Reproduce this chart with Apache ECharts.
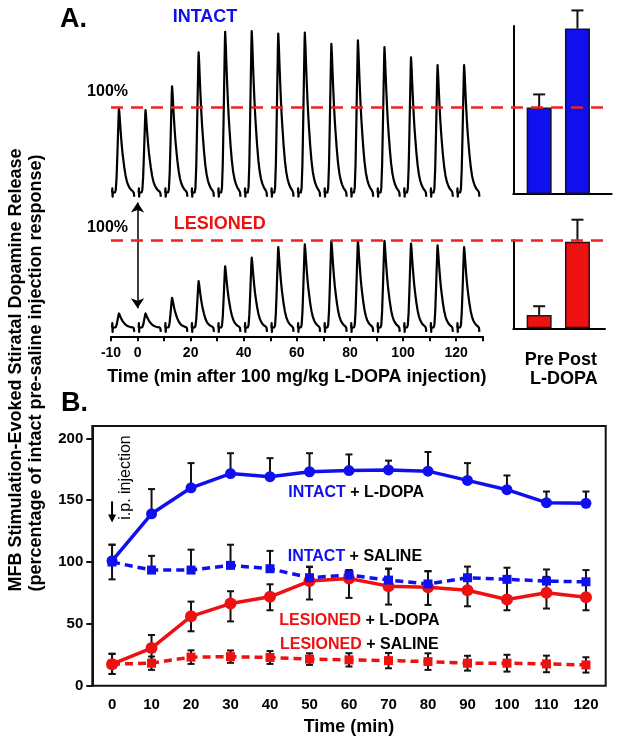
<!DOCTYPE html>
<html>
<head>
<meta charset="utf-8">
<title>L-DOPA and evoked dopamine release</title>
<script src="https://cdn.jsdelivr.net/npm/echarts@6/dist/echarts.min.js"></script>
<style>
  html, body { margin: 0; padding: 0; background: #fff; }
  #chart { width: 621px; height: 747px; }
</style>
</head>
<body>
<div id="chart"></div>
<script>
// ---- panel A: single evoked responses every 10 min ----
const peakTimes = [-7, 3, 13, 23, 33, 43, 53, 63, 73, 83, 93, 103, 113, 123];
const intactPeaks = [99, 97, 125, 165, 189, 190, 187, 188, 175, 179, 171, 159, 150, 150];
const lesionedPeaks = [16, 16, 34, 53, 70, 80, 92, 95, 99, 99, 99, 96, 94, 92];

// shape of one transient (min from peak, fraction of peak)
const transientT = [-2.8, -2.6, -2.5, -2.4, -2.3, -1.5, -1.2, -0.9, -0.6, -0.3, -0.1, 0, 0.2, 0.45, 0.7, 1.0, 1.3, 1.6, 2.0, 2.5, 3.0, 3.5, 4.0, 4.6, 5.2, 5.6, 5.75];
const transientShape = [0, 0, 0, 0, 0, 0, 0.03, 0.18, 0.45, 0.75, 0.94, 1, 0.93, 0.81, 0.7, 0.58, 0.48, 0.4, 0.3, 0.2, 0.13, 0.085, 0.055, 0.03, 0.015, 0.006, 0];
// stimulus artifact / end hook (percent)
const stimArtifact = [0, 0, 5, -5, 0, 0, 0, 0, 0, 0, 0, 0, 0, 0, 0, 0, 0, 0, 0, 0, 0, 0, 0, 0, 0, -1, -5];

// ---- panel A bars ----
const barGroups = ['Pre', 'Post'];
const intactBars = [100, 191];
const intactBarTop = [115, 212];
const lesionedBars = [15, 98];
const lesionedBarTop = [25, 123];

// ---- panel B ----
const timeMin = [0, 10, 20, 30, 40, 50, 60, 70, 80, 90, 100, 110, 120];
const intactLdopa = [101, 139, 160, 171.5, 169, 173, 174, 174.5, 173.5, 166, 158.5, 148, 147.5];
const intactLdopaHi = [114, 159, 180, 188, 184, 188, 187, 182, 189, 180, 170, 157, 157];
const intactSaline = [100, 93.5, 93.5, 97.3, 94.6, 87.3, 89.5, 85.4, 82.3, 87.3, 86, 84.6, 84];
const intactSalineLo = [86, 93.5, 93.5, 97.3, 94.6, 87.3, 89.5, 85.4, 82.3, 87.3, 86, 84.6, 84];
const intactSalineHi = [114, 105, 110, 114, 109, 96, 93.5, 94.6, 92.5, 96.3, 95.4, 94, 93.5];
const lesionedLdopa = [17.4, 30.4, 56.1, 66.4, 71.9, 84.6, 86.7, 80.5, 79.6, 77.2, 69.7, 75.1, 71.5];
const lesionedLdopaLo = [9.5, 19.8, 44, 52, 61, 69.7, 71, 65.6, 65.3, 64.2, 61, 62.4, 61];
const lesionedLdopaHi = [25.8, 41, 68, 76.4, 82, 96.3, 93.5, 94.6, 92.7, 88, 84, 88, 82];
const lesionedSaline = [17.4, 18.2, 23.1, 23.5, 22.8, 21.5, 20.9, 20.3, 19.5, 18.2, 18.2, 17.6, 16.8];
const lesionedSalineLo = [9.5, 12.8, 17.6, 18.5, 17.6, 16.8, 15.5, 14.1, 12.8, 12.2, 11.4, 10.9, 10.6];
const lesionedSalineHi = [25.8, 23.6, 28.6, 28.5, 28, 26.2, 26.3, 26.5, 26.2, 24.2, 25, 24.3, 23];

const BLUE = '#1010ee';
const RED = '#ee1111';
const FONT = "'Liberation Sans', Arial, sans-serif";

function renderTransient(params, api) {
  const t0 = api.value(0);
  const amp = api.value(1);
  const pts = transientT.map((dt, k) => api.coord([t0 + dt, amp * transientShape[k] + stimArtifact[k]]));
  return {
    type: 'polyline',
    shape: { points: pts },
    style: { stroke: '#000', lineWidth: 2.2, fill: 'none', lineJoin: 'round' },
  };
}

function makeErrorBar(capHalf) {
  return function (params, api) {
    const x = api.value(0), v = api.value(1), lo = api.value(2), hi = api.value(3);
    const top = api.coord([x, hi]);
    const bot = api.coord([x, lo]);
    const style = { stroke: '#111', lineWidth: 2 };
    const children = [{ type: 'line', shape: { x1: top[0], y1: top[1], x2: bot[0], y2: bot[1] }, style: style }];
    if (hi > v) {
      children.push({ type: 'line', shape: { x1: top[0] - capHalf, y1: top[1], x2: top[0] + capHalf, y2: top[1] }, style: style });
    }
    if (lo < v) {
      children.push({ type: 'line', shape: { x1: bot[0] - capHalf, y1: bot[1], x2: bot[0] + capHalf, y2: bot[1] }, style: style });
    }
    return { type: 'group', children: children };
  };
}

// down arrow: [x, from, to] in data units
function renderArrow(params, api) {
  const a = api.coord([api.value(0), api.value(1)]);
  const b = api.coord([api.value(0), api.value(2)]);
  return {
    type: 'group',
    children: [
      { type: 'line', shape: { x1: a[0], y1: a[1], x2: b[0], y2: b[1] - 6 }, style: { stroke: '#000', lineWidth: 2 } },
      { type: 'polygon', shape: { points: [[b[0] - 4, b[1] - 8], [b[0] + 4, b[1] - 8], [b[0], b[1]]] }, style: { fill: '#000' } },
    ],
  };
}

function hiddenAxis(gridIndex, min, max) {
  return { gridIndex: gridIndex, type: 'value', min: min, max: max, show: false };
}
function frameAxis(gridIndex) {
  return {
    gridIndex: gridIndex, type: 'value', min: 0, max: 1,
    axisLine: { show: true, onZero: false, lineStyle: { color: '#000', width: 2 } },
    axisTick: { show: false }, axisLabel: { show: false }, splitLine: { show: false },
  };
}

const boldText = (size) => ({ fontSize: size, fontWeight: 'bold', fontFamily: FONT, color: '#000' });

const grids = [
  { left: 111, right: 138.3, top: 31, height: 170 },          // 0 intact traces
  { left: 111, right: 138.3, top: 187.5, height: 148.75 },    // 1 lesioned traces
  { left: 111, right: 11, top: 31, height: 170 },             // 2 100% line intact
  { left: 111, right: 16, top: 187.5, height: 148.75 },       // 3 100% line lesioned
  { left: 513.3, right: 9.3, top: 26, height: 168 },          // 4 intact bar frame
  { left: 520, width: 76.6, top: 26, height: 168 },           // 5 intact bars
  { left: 513.3, right: 16, top: 240, height: 88.3 },         // 6 lesioned bar frame
  { left: 520, width: 76.6, top: 240, height: 88.3 },         // 7 lesioned bars
  { left: 92.3, right: 15.3, top: 426, height: 259.7, show: true, borderColor: '#111', borderWidth: 2 }, // 8 panel B
].map(g => Object.assign({ outerBoundsMode: 'none', containLabel: false }, g));

const xAxes = [
  hiddenAxis(0, -10, 130),
  {
    gridIndex: 1, type: 'value', min: -10, max: 130, interval: 10,
    axisLine: { show: true, onZero: false, lineStyle: { color: '#000', width: 2 } },
    axisTick: { show: true, length: 5, lineStyle: { color: '#000', width: 2 } },
    axisLabel: Object.assign(boldText(14), {
      margin: 10,
      formatter: v => (v === -10 || v === 0 || (v > 0 && v <= 120 && v % 20 === 0)) ? String(v) : '',
    }),
    splitLine: { show: false },
    name: 'Time (min after 100 mg/kg L-DOPA injection)',
    nameLocation: 'middle', nameGap: 32,
    nameTextStyle: boldText(18),
  },
  hiddenAxis(2, 0, 1),
  hiddenAxis(3, 0, 1),
  frameAxis(4),
  { gridIndex: 5, type: 'category', data: barGroups, show: false },
  frameAxis(6),
  {
    gridIndex: 7, type: 'category', data: barGroups,
    axisLine: { show: false }, axisTick: { show: false },
    axisLabel: Object.assign(boldText(18), { margin: 23, interval: 0, hideOverlap: false }),
    name: 'L-DOPA', nameLocation: 'middle', nameGap: 39,
    nameTextStyle: Object.assign(boldText(18), { padding: [0, 0, 0, 11] }),
  },
  {
    gridIndex: 8, type: 'value', min: -5, max: 125, interval: 5,
    axisLine: { show: false, onZero: false }, axisTick: { show: false },
    axisLabel: Object.assign(boldText(15), {
      margin: 12,
      formatter: v => (v >= 0 && v <= 120 && v % 10 === 0) ? String(v) : '',
    }),
    splitLine: { show: false },
    name: 'Time (min)', nameLocation: 'middle', nameGap: 32,
    nameTextStyle: boldText(18),
  },
];

const yAxes = [
  hiddenAxis(0, -10, 190),
  hiddenAxis(1, -10, 160),
  hiddenAxis(2, -10, 190),
  hiddenAxis(3, -10, 160),
  frameAxis(4),
  hiddenAxis(5, 0, 194),
  frameAxis(6),
  hiddenAxis(7, 0, 100),
  {
    gridIndex: 8, type: 'value', min: 0, max: 210, interval: 50,
    axisLine: { show: true, onZero: false, lineStyle: { color: '#111', width: 2 } },
    axisTick: { show: true, length: 6, customValues: [0, 50, 100, 150, 200], lineStyle: { color: '#111', width: 2 } },
    axisLabel: Object.assign(boldText(15), {
      margin: 9,
      customValues: [0, 50, 100, 150, 200],
      formatter: v => (v % 50 === 0) ? String(v) : '',
    }),
    splitLine: { show: false },
  },
];

const dashedHundred = {
  silent: true, symbol: 'none', label: { show: false },
  lineStyle: { color: '#ee2222', width: 2.5, type: [12, 8] },
  emphasis: { disabled: true },
  data: [{ yAxis: 100 }],
};

function errSeries(values, lo, hi) {
  return {
    type: 'custom', xAxisIndex: 8, yAxisIndex: 8, z: 2, silent: true,
    renderItem: makeErrorBar(3.5),
    data: timeMin.map((t, i) => [t, values[i], lo[i], hi[i]]),
  };
}

function trendSeries(values, color, symbol, size, dashed) {
  return {
    type: 'line', xAxisIndex: 8, yAxisIndex: 8, z: 4, silent: true,
    data: timeMin.map((t, i) => [t, values[i]]),
    symbol: symbol, symbolSize: size, showSymbol: true,
    lineStyle: { color: color, width: 3.5, type: dashed ? [8, 5] : 'solid' },
    itemStyle: { color: color },
    emphasis: { disabled: true },
  };
}

const series = [
  {
    type: 'custom', xAxisIndex: 0, yAxisIndex: 0, silent: true,
    renderItem: renderTransient,
    data: peakTimes.map((t, i) => [t, intactPeaks[i]]),
  },
  {
    type: 'custom', xAxisIndex: 1, yAxisIndex: 1, silent: true,
    renderItem: renderTransient,
    data: peakTimes.map((t, i) => [t, lesionedPeaks[i]]),
  },
  {
    type: 'line', xAxisIndex: 1, yAxisIndex: 1, data: [],
    markLine: {
      silent: true, symbol: ['arrow', 'arrow'], symbolSize: 10, label: { show: false },
      lineStyle: { color: '#000', width: 1.5, type: 'solid' },
      emphasis: { disabled: true },
      data: [[{ coord: [0, 22] }, { coord: [0, 143] }]],
    },
  },
  { type: 'line', xAxisIndex: 2, yAxisIndex: 2, data: [], z: 5, markLine: dashedHundred },
  { type: 'line', xAxisIndex: 3, yAxisIndex: 3, data: [], z: 5, markLine: dashedHundred },
  {
    type: 'bar', xAxisIndex: 5, yAxisIndex: 5, barWidth: 25, silent: true,
    data: intactBars,
    itemStyle: { color: BLUE, borderColor: '#101030', borderWidth: 1.5 },
  },
  {
    type: 'custom', xAxisIndex: 5, yAxisIndex: 5, silent: true,
    renderItem: makeErrorBar(6),
    data: intactBars.map((v, i) => [i, v, v, intactBarTop[i]]),
  },
  {
    type: 'bar', xAxisIndex: 7, yAxisIndex: 7, barWidth: 25, silent: true,
    data: lesionedBars,
    itemStyle: { color: RED, borderColor: '#301010', borderWidth: 1.5 },
  },
  {
    type: 'custom', xAxisIndex: 7, yAxisIndex: 7, silent: true,
    renderItem: makeErrorBar(6),
    data: lesionedBars.map((v, i) => [i, v, v, lesionedBarTop[i]]),
  },
  errSeries(intactSaline, intactSalineLo, intactSalineHi),
  errSeries(intactLdopa, intactLdopa, intactLdopaHi),
  errSeries(lesionedSaline, lesionedSalineLo, lesionedSalineHi),
  errSeries(lesionedLdopa, lesionedLdopaLo, lesionedLdopaHi),
  trendSeries(lesionedSaline, RED, 'rect', 9, true),
  trendSeries(lesionedLdopa, RED, 'circle', 12, false),
  trendSeries(intactSaline, BLUE, 'rect', 9, true),
  trendSeries(intactLdopa, BLUE, 'circle', 11, false),
  {
    // "i.p. injection" arrow
    type: 'custom', xAxisIndex: 8, yAxisIndex: 8, silent: true, z: 5,
    renderItem: renderArrow,
    data: [[0, 149, 132]],
  },
];

function label(x, y, text, opts) {
  return {
    type: 'text', x: x, y: y, rotation: opts.rotation || 0, silent: true,
    style: Object.assign({
      text: text, fill: '#000', fontWeight: 'bold', fontFamily: FONT,
      fontSize: 16, align: 'left', verticalAlign: 'middle',
    }, opts.style || {}),
  };
}

function seriesLabel(x, y, head, tail, color) {
  return label(x, y, '{h|' + head + '}' + tail, {
    style: { fontSize: 16, rich: { h: { fill: color, fontSize: 16, fontWeight: 'bold', fontFamily: FONT } } },
  });
}

const graphics = [
  label(60, 20, 'A.', { style: { fontSize: 27 } }),
  label(61, 404, 'B.', { style: { fontSize: 27 } }),
  label(205, 17, 'INTACT', { style: { fontSize: 18, fill: BLUE, align: 'center' } }),
  label(219.7, 224, 'LESIONED', { style: { fontSize: 18, fill: RED, align: 'center' } }),
  label(128, 91.5, '100%', { style: { fontSize: 16, align: 'right' } }),
  label(128, 228, '100%', { style: { fontSize: 16, align: 'right' } }),
  label(16, 370, 'MFB Stimulation-Evoked Stiratal Dopamine Release', { rotation: Math.PI / 2, style: { fontSize: 18, align: 'center' } }),
  label(36, 373, '(percentage of intact pre-saline injection response)', { rotation: Math.PI / 2, style: { fontSize: 18, align: 'center' } }),
  label(126, 477.5, 'i.p. injection', { rotation: Math.PI / 2, style: { fontSize: 16, fontWeight: 'normal', align: 'center' } }),
  seriesLabel(288.3, 492.7, 'INTACT', ' + L-DOPA', BLUE),
  seriesLabel(287.7, 556.7, 'INTACT', ' + SALINE', BLUE),
  seriesLabel(279.3, 620.7, 'LESIONED', ' + L-DOPA', RED),
  seriesLabel(280, 645, 'LESIONED', ' + SALINE', RED),
];

const chart = echarts.init(document.getElementById('chart'), null, { renderer: 'canvas' });
chart.setOption({
  animation: false,
  backgroundColor: '#fff',
  grid: grids,
  xAxis: xAxes,
  yAxis: yAxes,
  series: series,
  graphic: graphics,
});
</script>
</body>
</html>
